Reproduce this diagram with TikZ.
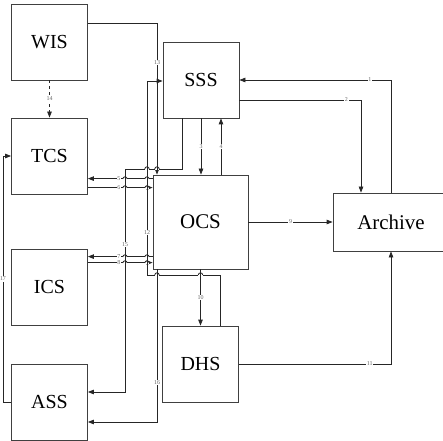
\documentclass[tikz,border=0pt]{standalone}
\usepackage{fontspec}
\setmainfont{Liberation Serif}
\usetikzlibrary{arrows.meta}

\tikzset{
  unit/.style={draw=black!75, line width=0.8bp, minimum width=76bp, minimum height=76bp,
    inner sep=0pt, font=\fontsize{20}{21}\selectfont},
  conn/.style={draw=black!85, line width=0.8bp},
  arr/.style={conn, -{Triangle[length=6bp,width=4.5bp]}},
  lbl/.style={fill=white, text=black!60, inner sep=0.6bp, font=\fontsize{6}{6.5}\selectfont},
  jumparc/.pic={
    \fill[white] (-2.3,-0.8) rectangle (2.3,0.8);
    \draw[conn] (0,-3) -- (0,3);
    \draw[conn] (-2.2,0) arc[start angle=180,end angle=0,radius=2.2];
  }
}

\begin{document}
\begin{tikzpicture}[x=1bp,y=1bp]
\useasboundingbox (0,0) rectangle (443,-441);
% subsystems
\node[unit] (wis) at (49.5,-42) {WIS};
\node[unit] (tcs) at (49.5,-156) {TCS};
\node[unit] (ics) at (49.5,-287) {ICS};
\node[unit] (ass) at (49.5,-402) {ASS};
\node[unit] (sss) at (201,-80) {SSS};
\node[unit, minimum width=95bp, minimum height=94bp, font=\fontsize{21}{22}\selectfont] (ocs) at (200.5,-222) {OCS};
\node[unit] (dhs) at (200.5,-364) {DHS};
\node[unit, minimum width=116bp, minimum height=58bp, font=\fontsize{21}{22}\selectfont] (arch) at (391,-222) {Archive};
% bends
\coordinate (c12) at (147,-275);
\coordinate (c15) at (125,-169);
\coordinate (c17) at (3,-402);
% links
\draw[arr] (arch.north) |- node[lbl,pos=0.57]{1} (sss.east);
\draw[arr] ([yshift=-20bp]sss.east) -| node[lbl,pos=0.44]{2} ([xshift=-30bp]arch.north);
\draw[arr] (sss.south) -- node[lbl]{3} (sss.south |- ocs.north);
\draw[arr] ([xshift=20bp]sss.south |- ocs.north) -- node[lbl]{4} ([xshift=20bp]sss.south);
\draw[arr] ([yshift=-4bp]ocs.north west) -- node[lbl,pos=0.52]{5} ([yshift=-4bp]ocs.north west -| tcs.east);
\draw[arr] ([yshift=-13bp]ocs.north west -| tcs.east) -- node[lbl,pos=0.48]{6} ([yshift=-13bp]ocs.north west);
\draw[arr] ([yshift=-82bp]ocs.north west) -- node[lbl,pos=0.52]{7} ([yshift=-82bp]ocs.north west -| ics.east);
\draw[arr] ([yshift=-88bp]ocs.north west -| ics.east) -- node[lbl,pos=0.48]{8} ([yshift=-88bp]ocs.north west);
\draw[arr] (ocs.east) -- node[lbl]{9} (arch.west);
\draw[arr] (ocs.south) -- node[lbl]{10} (dhs.north);
\draw[arr] (dhs.east) -| node[lbl,pos=0.43]{11} (arch.south);
\draw[arr] ([xshift=19.5bp]dhs.north) |- (c12) |- node[lbl,pos=0.11]{12} ([yshift=-1bp]sss.west);
\draw[arr] ([yshift=19bp]wis.east) -| node[lbl,pos=0.63]{13} ([xshift=-43.5bp]ocs.north);
\draw[arr,dashed] (wis.south) -- node[lbl]{14} (tcs.north);
\draw[arr] ([xshift=-19bp]sss.south) |- (c15) |- node[lbl,pos=0.17]{15} ([yshift=10bp]ass.east);
\draw[arr] ([xshift=-43.5bp]ocs.south) |- node[lbl,pos=0.37]{16} ([yshift=-20bp]ass.east);
\draw[arr] (ass.west) -- (c17) |- node[lbl,pos=0.25]{17} (tcs.west);
% line jumps
\foreach \hx/\hy in {125/179,147/179,125/188,147/188,125/257,147/257,125/263,147/263,147/169,157/169,157/275,200.5/275}
  \pic at (\hx,-\hy) {jumparc};
\end{tikzpicture}
\end{document}
